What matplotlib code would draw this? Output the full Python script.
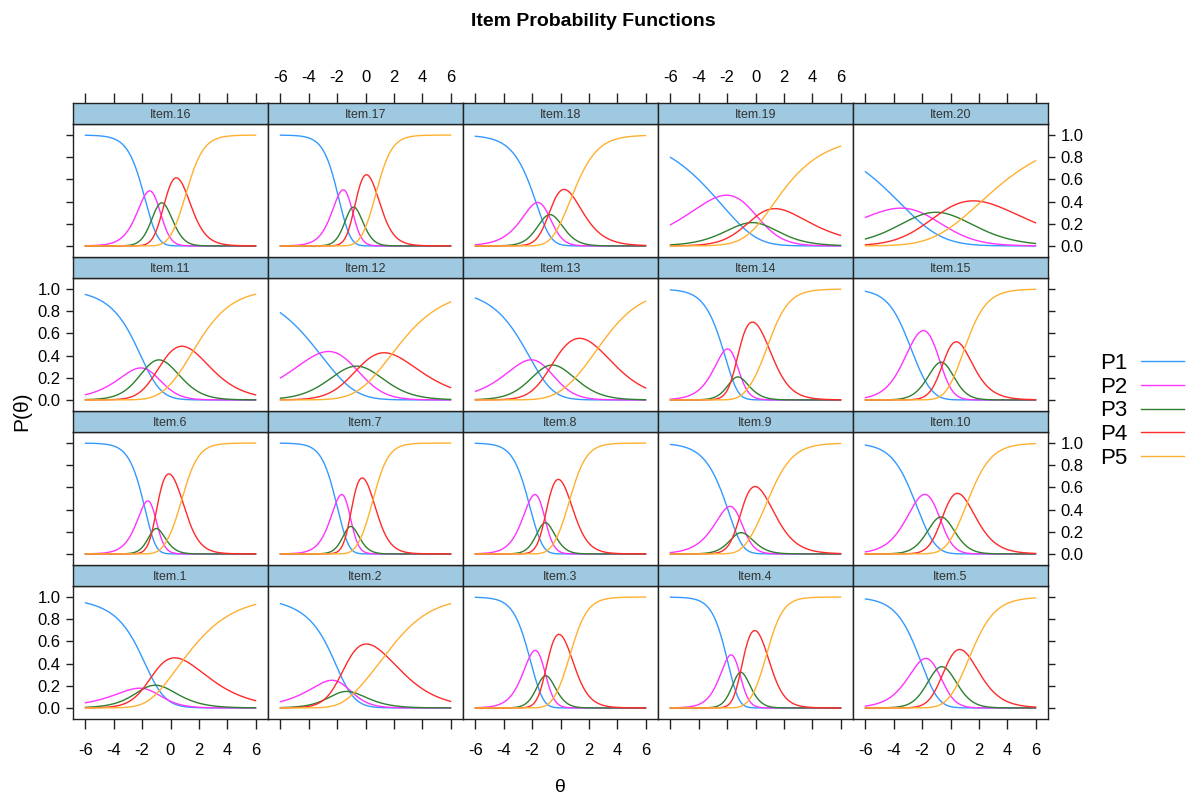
import matplotlib
matplotlib.use("Agg")
import matplotlib.pyplot as plt
import numpy as np

plt.rcParams["font.family"] = ["Liberation Sans", "DejaVu Sans"]
plt.rcParams["axes.unicode_minus"] = False

# generalized partial credit parameters (Item.1 .. Item.20)
item_labels = [f"Item.{i}" for i in range(1, 21)]
slopes = [0.52, 0.60, 1.61, 1.72, 1.05,
          1.69, 1.80, 1.65, 1.10, 1.13,
          0.69, 0.50, 0.63, 1.32, 1.22,
          1.58, 1.76, 1.06, 0.45, 0.34]
step_difficulty = [
    [-0.18, -1.88, -1.98, 0.90],
    [-1.31, -0.97, -2.98, 1.40],
    [-2.19, -1.03, -1.15, 0.69],
    [-2.01, -1.13, -1.07, 0.80],
    [-2.11, -0.98, -0.36, 1.34],
    [-1.87, -0.85, -1.31, 0.80],
    [-2.07, -0.91, -1.26, 0.53],
    [-2.24, -1.02, -1.20, 0.65],
    [-2.00, -0.65, -1.63, 0.86],
    [-2.48, -0.78, -0.57, 1.19],
    [-1.63, -1.77, -0.50, 1.60],
    [-3.25, -0.84, -0.38, 1.86],
    [-2.07, -1.08, -0.62, 2.65],
    [-2.25, -0.99, -1.74, 0.87],
    [-2.84, -0.72, -0.51, 0.98],
    [-1.85, -0.87, -0.44, 1.11],
    [-1.93, -0.98, -0.78, 0.76],
    [-1.72, -0.85, -0.85, 0.83],
    [-2.82, 0.67, -0.51, 1.00],
    [-3.19, -1.86, -0.66, 2.17],
]
category_labels = ["P1", "P2", "P3", "P4", "P5"]
category_colors = ["#3399ff", "#ff33ff", "#2f7f2f", "#ff2a2a", "#ffb030"]
theta_ticks = [-6, -4, -2, 0, 2, 4, 6]
prob_ticks = [0.0, 0.2, 0.4, 0.6, 0.8, 1.0]

theta = np.linspace(-6, 6, 241)


def gpcm_probs(a, d):
    # cumulative sums of a*(theta - d_k), then softmax over categories
    z = np.zeros((len(d) + 1, theta.size))
    for k in range(1, len(d) + 1):
        z[k] = z[k - 1] + a * (theta - d[k - 1])
    z -= z.max(axis=0)
    e = np.exp(z)
    return e / e.sum(axis=0)


W, H = 1186, 800
fig = plt.figure(figsize=(W / 100, H / 100), dpi=100)

left0, top0 = 73, 103
col_w, strip_h, body_h = 195, 21, 133
frame_col = "#222222"
strip_col = "#9fc9e0"

for idx, label in enumerate(item_labels):
    row = 3 - idx // 5
    col = idx % 5
    x_px = left0 + col * col_w
    strip_top = top0 + row * (strip_h + body_h)
    body_top = strip_top + strip_h

    ax = fig.add_axes([x_px / W, 1 - (body_top + body_h) / H, col_w / W, body_h / H])
    st = fig.add_axes([x_px / W, 1 - body_top / H, col_w / W, strip_h / H])

    probs = gpcm_probs(slopes[idx], step_difficulty[idx])
    for p, c, name in zip(probs, category_colors, category_labels):
        ax.plot(theta, p, color=c, lw=1.0, label=name)

    ax.set_xlim(-6.88, 6.88)
    ax.set_ylim(-0.1, 1.1)
    st.set_xlim(-6.88, 6.88)
    st.set_ylim(0, 1)
    st.set_facecolor(strip_col)
    st.text(0.5, 0.45, label, transform=st.transAxes, ha="center", va="center",
            fontsize=9, color="#333333")
    st.set_yticks([])

    for a_ in (ax, st):
        for s in a_.spines.values():
            s.set_color(frame_col)
            s.set_linewidth(1.0)

    # x ticks: bottom on last row, top (above strip) on first row
    ax.set_xticks(theta_ticks)
    st.set_xticks(theta_ticks)
    ax.tick_params(axis="x", direction="out", length=7, width=1, color=frame_col,
                   labelsize=12, pad=10, top=False, bottom=(row == 3),
                   labelbottom=(row == 3 and col in (0, 2, 4)))
    ax.set_xticklabels([str(t) for t in theta_ticks])
    st.tick_params(axis="x", direction="out", length=7, width=1, color=frame_col,
                   labelsize=12, pad=6, bottom=False, labelbottom=False,
                   top=(row == 0), labeltop=(row == 0 and col in (1, 3)))
    st.set_xticklabels([str(t) for t in theta_ticks])

    # y ticks: left on first column, right on last column, labels alternate
    ax.set_yticks(prob_ticks)
    ax.set_yticklabels([f"{v:.1f}" for v in prob_ticks])
    ax.tick_params(axis="y", direction="out", length=5, width=1, color=frame_col,
                   labelsize=12, pad=4,
                   left=(col == 0), labelleft=(col == 0 and row in (1, 3)),
                   right=(col == 4), labelright=(col == 4 and row in (0, 2)))

handles = ax.get_lines()
fig.legend(handles, category_labels, loc="center left",
           bbox_to_anchor=(1100 / W, 1 - 411 / H), frameon=False,
           borderpad=0, borderaxespad=0,
           fontsize=16, markerfirst=False, handlelength=1.95,
           handletextpad=0.6, labelspacing=0.12)

fig.text(0.5, 1 - 22 / H, "Item Probability Functions", ha="center", va="center",
         fontsize=14, fontweight="bold")
fig.text(22 / W, 1 - 411 / H, "P(θ)", rotation=90, ha="center", va="center",
         fontsize=15)
fig.text(560 / W, 1 - 788 / H, "θ", ha="center", va="center", fontsize=14)

fig.savefig("out.png", dpi=100)
